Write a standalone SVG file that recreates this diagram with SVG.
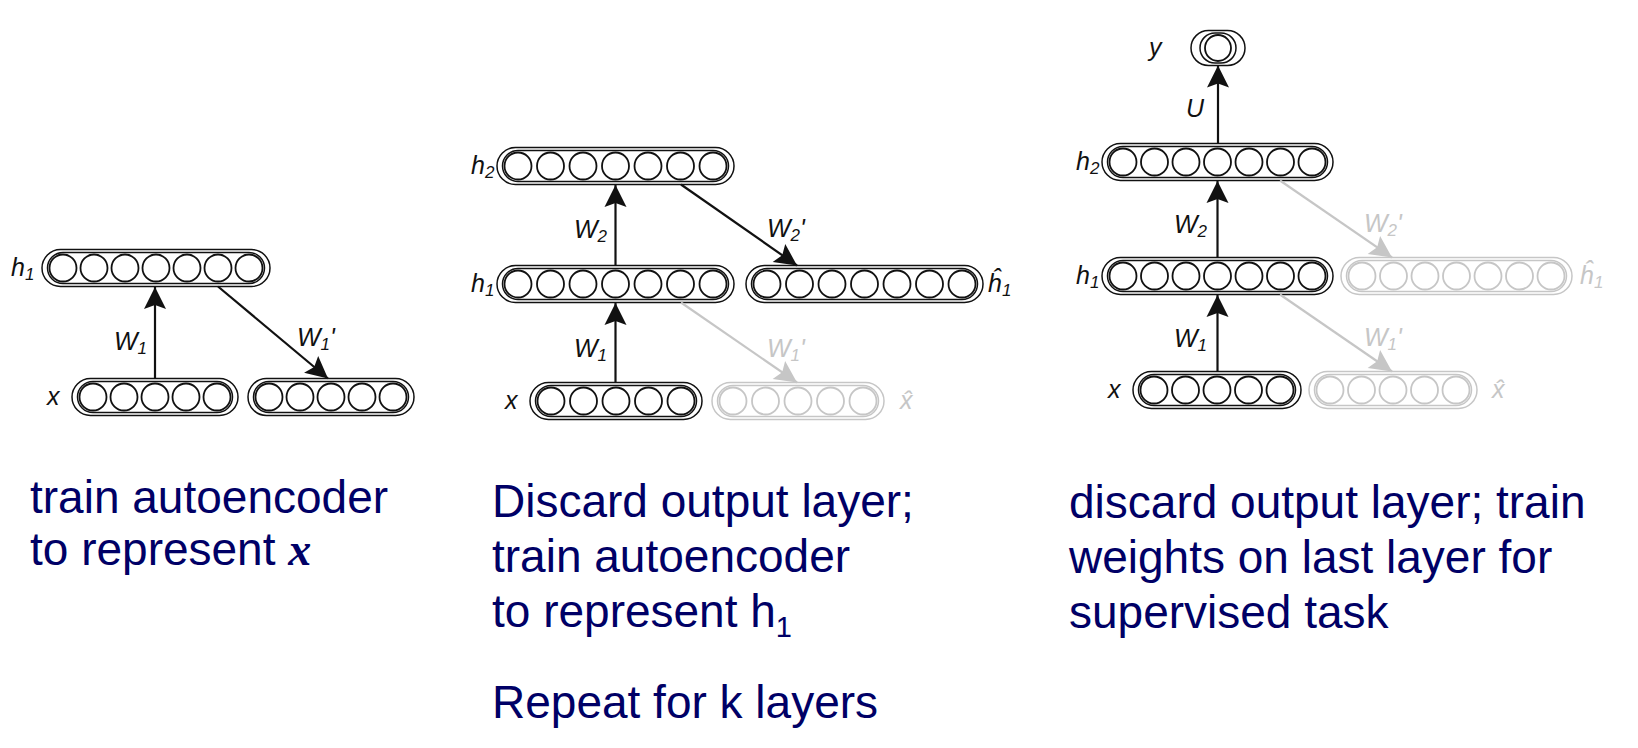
<svg xmlns="http://www.w3.org/2000/svg" width="1638" height="748" viewBox="0 0 1638 748">
<defs>
<style>
.on circle{fill:#fff;stroke:#111;stroke-width:1.8}
.on rect{fill:none;stroke:#111;stroke-width:1.5}
.off circle{fill:#fff;stroke:#c6c6c6;stroke-width:1.8}
.off rect{fill:none;stroke:#c6c6c6;stroke-width:1.5}
.lbl{font-family:"Liberation Sans",Arial,sans-serif;font-style:italic;font-size:25px;fill:#111}
.lbl.g{fill:#c6c6c6}
.sub{font-size:17px}
.cap{font-family:"Liberation Sans",Arial,sans-serif;font-size:46px;fill:#000066}
.ln{stroke:#111;stroke-width:2.2;fill:none;marker-end:url(#ah)}
.lng{stroke:#c6c6c6;stroke-width:2.2;fill:none;marker-end:url(#ahg)}
</style>
<marker id="ah" viewBox="-23 -12 24 24" refX="0" refY="0" markerWidth="24" markerHeight="24" markerUnits="userSpaceOnUse" orient="auto">
<path d="M0,0 L-22,-11 L-18,0 L-22,11 Z" fill="#111"/>
</marker>
<marker id="ahg" viewBox="-23 -12 24 24" refX="0" refY="0" markerWidth="24" markerHeight="24" markerUnits="userSpaceOnUse" orient="auto">
<path d="M0,0 L-22,-11 L-18,0 L-22,11 Z" fill="#c6c6c6"/>
</marker>
</defs>
<rect width="1638" height="748" fill="#fff"/>

<!-- Panel 1 -->
<g id="p1-h1" class="on">
<rect x="42" y="249.5" width="228" height="37" rx="18.5"/>
<rect x="47.5" y="252.5" width="217" height="31" rx="15.5"/>
<circle cx="63" cy="268" r="13.5"/><circle cx="94" cy="268" r="13.5"/><circle cx="125" cy="268" r="13.5"/><circle cx="156" cy="268" r="13.5"/><circle cx="187" cy="268" r="13.5"/><circle cx="218" cy="268" r="13.5"/><circle cx="249" cy="268" r="13.5"/>
<text class="lbl" x="11" y="276">h<tspan class="sub" dy="4">1</tspan></text>
</g>
<g id="p1-x" class="on">
<rect x="72" y="378.5" width="166" height="37" rx="18.5"/>
<rect x="77.5" y="381.5" width="155" height="31" rx="15.5"/>
<circle cx="93" cy="397" r="13.5"/><circle cx="124" cy="397" r="13.5"/><circle cx="155" cy="397" r="13.5"/><circle cx="186" cy="397" r="13.5"/><circle cx="217" cy="397" r="13.5"/>
<text class="lbl" x="47" y="405">x</text>
</g>
<g id="p1-xhat" class="on">
<rect x="248" y="378.5" width="166" height="37" rx="18.5"/>
<rect x="253.5" y="381.5" width="155" height="31" rx="15.5"/>
<circle cx="269" cy="397" r="13.5"/><circle cx="300" cy="397" r="13.5"/><circle cx="331" cy="397" r="13.5"/><circle cx="362" cy="397" r="13.5"/><circle cx="393" cy="397" r="13.5"/>
</g>
<g id="p1-text">
<text class="cap" x="30" y="513">train autoencoder</text>
<text class="cap" x="30" y="565">to represent <tspan style="font-family:'Liberation Serif',serif;font-style:italic;font-weight:bold">x</tspan></text>
</g>

<!-- Panel 2 -->
<g id="p2-h2" class="on">
<rect x="497" y="147.5" width="237" height="37" rx="18.5"/>
<rect x="502.5" y="150.5" width="226" height="31" rx="15.5"/>
<circle cx="518" cy="166" r="13.5"/><circle cx="550.5" cy="166" r="13.5"/><circle cx="583" cy="166" r="13.5"/><circle cx="615.5" cy="166" r="13.5"/><circle cx="648" cy="166" r="13.5"/><circle cx="680.5" cy="166" r="13.5"/><circle cx="713" cy="166" r="13.5"/>
<text class="lbl" x="471" y="174">h<tspan class="sub" dy="4">2</tspan></text>
</g>
<g id="p2-h1" class="on">
<rect x="497" y="265.5" width="237" height="37" rx="18.5"/>
<rect x="502.5" y="268.5" width="226" height="31" rx="15.5"/>
<circle cx="518" cy="284" r="13.5"/><circle cx="550.5" cy="284" r="13.5"/><circle cx="583" cy="284" r="13.5"/><circle cx="615.5" cy="284" r="13.5"/><circle cx="648" cy="284" r="13.5"/><circle cx="680.5" cy="284" r="13.5"/><circle cx="713" cy="284" r="13.5"/>
<text class="lbl" x="471" y="292">h<tspan class="sub" dy="4">1</tspan></text>
</g>
<g id="p2-h1hat" class="on">
<rect x="746" y="265.5" width="237" height="37" rx="18.5"/>
<rect x="751.5" y="268.5" width="226" height="31" rx="15.5"/>
<circle cx="767" cy="284" r="13.5"/><circle cx="799.5" cy="284" r="13.5"/><circle cx="832" cy="284" r="13.5"/><circle cx="864.5" cy="284" r="13.5"/><circle cx="897" cy="284" r="13.5"/><circle cx="929.5" cy="284" r="13.5"/><circle cx="962" cy="284" r="13.5"/>
<text class="lbl" x="988" y="292">ĥ<tspan class="sub" dy="4">1</tspan></text>
</g>
<g id="p2-x" class="on">
<rect x="530" y="382.5" width="172" height="37" rx="18.5"/>
<rect x="535.5" y="385.5" width="161" height="31" rx="15.5"/>
<circle cx="551" cy="401" r="13.5"/><circle cx="583.5" cy="401" r="13.5"/><circle cx="616" cy="401" r="13.5"/><circle cx="648.5" cy="401" r="13.5"/><circle cx="681" cy="401" r="13.5"/>
<text class="lbl" x="505" y="409">x</text>
</g>
<g id="p2-xhat" class="off">
<rect x="712" y="382.5" width="172" height="37" rx="18.5"/>
<rect x="717.5" y="385.5" width="161" height="31" rx="15.5"/>
<circle cx="733" cy="401" r="13.5"/><circle cx="765.5" cy="401" r="13.5"/><circle cx="798" cy="401" r="13.5"/><circle cx="830.5" cy="401" r="13.5"/><circle cx="863" cy="401" r="13.5"/>
<text class="lbl g" x="900" y="409">x̂</text>
</g>
<g id="p2-text">
<text class="cap" x="492" y="517">Discard output layer;</text>
<text class="cap" x="492" y="572">train autoencoder</text>
<text class="cap" x="492" y="627">to represent h<tspan dy="10" style="font-size:29px">1</tspan></text>
<text class="cap" x="492" y="718">Repeat for k layers</text>
</g>

<!-- Panel 3 -->
<g id="p3-y" class="on">
<rect x="1191" y="30.5" width="54" height="35" rx="17.5"/>
<rect x="1200" y="33" width="36" height="30" rx="15"/>
<circle cx="1218" cy="48" r="13"/>
<text class="lbl" x="1149" y="56">y</text>
</g>
<g id="p3-h2" class="on">
<rect x="1102" y="143.5" width="231" height="37" rx="18.5"/>
<rect x="1107.5" y="146.5" width="220" height="31" rx="15.5"/>
<circle cx="1123" cy="162" r="13.5"/><circle cx="1154.5" cy="162" r="13.5"/><circle cx="1186" cy="162" r="13.5"/><circle cx="1217.5" cy="162" r="13.5"/><circle cx="1249" cy="162" r="13.5"/><circle cx="1280.5" cy="162" r="13.5"/><circle cx="1312" cy="162" r="13.5"/>
<text class="lbl" x="1076" y="170">h<tspan class="sub" dy="4">2</tspan></text>
</g>
<g id="p3-h1" class="on">
<rect x="1102" y="257.5" width="231" height="37" rx="18.5"/>
<rect x="1107.5" y="260.5" width="220" height="31" rx="15.5"/>
<circle cx="1123" cy="276" r="13.5"/><circle cx="1154.5" cy="276" r="13.5"/><circle cx="1186" cy="276" r="13.5"/><circle cx="1217.5" cy="276" r="13.5"/><circle cx="1249" cy="276" r="13.5"/><circle cx="1280.5" cy="276" r="13.5"/><circle cx="1312" cy="276" r="13.5"/>
<text class="lbl" x="1076" y="284">h<tspan class="sub" dy="4">1</tspan></text>
</g>
<g id="p3-h1hat" class="off">
<rect x="1341" y="257.5" width="231" height="37" rx="18.5"/>
<rect x="1346.5" y="260.5" width="220" height="31" rx="15.5"/>
<circle cx="1362" cy="276" r="13.5"/><circle cx="1393.5" cy="276" r="13.5"/><circle cx="1425" cy="276" r="13.5"/><circle cx="1456.5" cy="276" r="13.5"/><circle cx="1488" cy="276" r="13.5"/><circle cx="1519.5" cy="276" r="13.5"/><circle cx="1551" cy="276" r="13.5"/>
<text class="lbl g" x="1580" y="284">ĥ<tspan class="sub" dy="4">1</tspan></text>
</g>
<g id="p3-x" class="on">
<rect x="1133" y="371.5" width="168" height="37" rx="18.5"/>
<rect x="1138.5" y="374.5" width="157" height="31" rx="15.5"/>
<circle cx="1154" cy="390" r="13.5"/><circle cx="1185.5" cy="390" r="13.5"/><circle cx="1217" cy="390" r="13.5"/><circle cx="1248.5" cy="390" r="13.5"/><circle cx="1280" cy="390" r="13.5"/>
<text class="lbl" x="1108" y="398">x</text>
</g>
<g id="p3-xhat" class="off">
<rect x="1309" y="371.5" width="168" height="37" rx="18.5"/>
<rect x="1314.5" y="374.5" width="157" height="31" rx="15.5"/>
<circle cx="1330" cy="390" r="13.5"/><circle cx="1361.5" cy="390" r="13.5"/><circle cx="1393" cy="390" r="13.5"/><circle cx="1424.5" cy="390" r="13.5"/><circle cx="1456" cy="390" r="13.5"/>
<text class="lbl g" x="1492" y="398">x̂</text>
</g>
<g id="p3-text">
<text class="cap" x="1069" y="518">discard output layer; train</text>
<text class="cap" x="1069" y="573">weights on last layer for</text>
<text class="cap" x="1069" y="628">supervised task</text>
</g>

<!-- Connectors -->
<g id="connectors">
<line class="ln" x1="155" y1="378.5" x2="155" y2="287"/>
<text class="lbl" x="114" y="350">W<tspan class="sub" dy="4">1</tspan></text>
<line class="ln" x1="218" y1="286.5" x2="328" y2="378.5"/>
<text class="lbl" x="297" y="346">W<tspan class="sub" dy="4">1</tspan><tspan dy="-4">'</tspan></text>

<line class="ln" x1="615.5" y1="265.5" x2="615.5" y2="185"/>
<text class="lbl" x="574" y="238">W<tspan class="sub" dy="4">2</tspan></text>
<line class="ln" x1="681" y1="184.5" x2="797" y2="265.5"/>
<text class="lbl" x="767" y="237">W<tspan class="sub" dy="4">2</tspan><tspan dy="-4">'</tspan></text>
<line class="ln" x1="615.5" y1="382.5" x2="615.5" y2="303"/>
<text class="lbl" x="574" y="357">W<tspan class="sub" dy="4">1</tspan></text>
<line class="lng" x1="681" y1="302.5" x2="797" y2="382.5"/>
<text class="lbl g" x="767" y="357">W<tspan class="sub" dy="4">1</tspan><tspan dy="-4">'</tspan></text>

<line class="ln" x1="1218" y1="143.5" x2="1218" y2="65.5"/>
<text class="lbl" x="1186" y="117">U</text>
<line class="ln" x1="1217.5" y1="257.5" x2="1217.5" y2="181"/>
<text class="lbl" x="1174" y="233">W<tspan class="sub" dy="4">2</tspan></text>
<line class="ln" x1="1217.5" y1="371.5" x2="1217.5" y2="295"/>
<text class="lbl" x="1174" y="347">W<tspan class="sub" dy="4">1</tspan></text>
<line class="lng" x1="1280" y1="180.5" x2="1392" y2="257.5"/>
<text class="lbl g" x="1364" y="232">W<tspan class="sub" dy="4">2</tspan><tspan dy="-4">'</tspan></text>
<line class="lng" x1="1280" y1="294.5" x2="1392" y2="371.5"/>
<text class="lbl g" x="1364" y="346">W<tspan class="sub" dy="4">1</tspan><tspan dy="-4">'</tspan></text>
</g>
</svg>
